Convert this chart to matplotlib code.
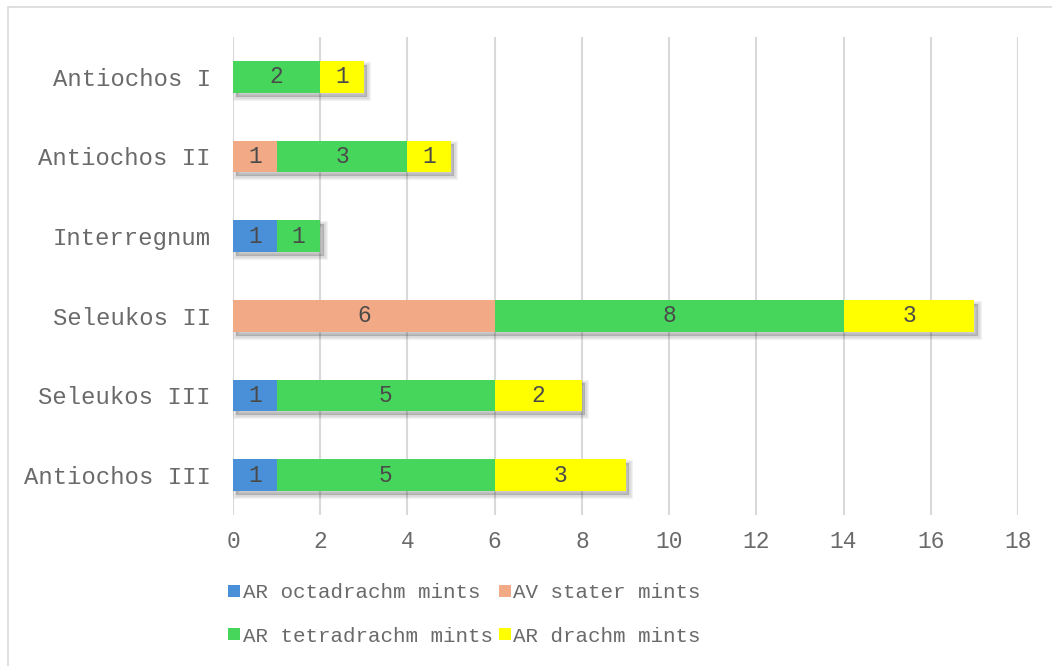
import matplotlib
matplotlib.use("Agg")
import matplotlib.pyplot as plt
import matplotlib.patheffects as pe
from matplotlib.patches import Rectangle
from matplotlib.lines import Line2D
import numpy as np

# Rulers, top to bottom
rulers = ["Antiochos I", "Antiochos II", "Interregnum",
          "Seleukos II", "Seleukos III", "Antiochos III"]

# Number of mints per coin type
octadrachm = [0, 0, 1, 0, 1, 1]
stater = [0, 1, 0, 6, 0, 0]
tetradrachm = [2, 3, 1, 8, 5, 5]
drachm = [1, 1, 0, 3, 2, 3]

series_names = ["AR octadrachm mints", "AV stater mints",
                "AR tetradrachm mints", "AR drachm mints"]
series_values = [octadrachm, stater, tetradrachm, drachm]
series_colors = ["#4A90D9", "#F2A985", "#47D65C", "#FFFF00"]

x_ticks = list(range(0, 19, 2))

plt.rcParams["font.family"] = ["Liberation Mono", "DejaVu Sans Mono"]

fig = plt.figure(figsize=(10.52, 6.66), dpi=100)
ax = fig.add_axes([233 / 1052, 1 - 515 / 666, 785 / 1052, 478 / 666])

n = len(rulers)
ypos = np.arange(n)[::-1]  # first ruler at the top
bar_h = 0.40

# soft drop shadow under each full bar
totals = np.sum(np.array(series_values), axis=0)
shadow = [pe.Stroke(offset=(2.4, -2.8), linewidth=w, foreground="k", alpha=0.05)
          for w in (5.0, 3.4, 1.8)]
shadow.append(pe.SimplePatchShadow(offset=(2.4, -2.8), shadow_rgbFace="k", alpha=0.2))
ax.barh(ypos, totals, height=bar_h, color="white", zorder=2, path_effects=shadow)

left = np.zeros(n)
for name, vals, col in zip(series_names, series_values, series_colors):
    vals = np.array(vals, dtype=float)
    ax.barh(ypos, vals, left=left, height=bar_h, color=col, zorder=3,
            label=name, linewidth=0)
    for yi, l, v in zip(ypos, left, vals):
        if v > 0:
            ax.text(l + v / 2, yi, f"{int(v)}", ha="center", va="center",
                    fontsize=16.5, color="#4a4a4a", zorder=4)
    left += vals

ax.set_xlim(0, 18)
ax.set_ylim(-0.5, n - 0.5)
ax.set_xticks(x_ticks)
ax.set_xticklabels([str(t) for t in x_ticks])
ax.set_yticks(ypos)
ax.set_yticklabels(rulers)
ax.tick_params(axis="x", length=0, pad=11, labelsize=16.5, labelcolor="#6a6a6a")
ax.tick_params(axis="y", length=0, pad=16, labelsize=17.2, labelcolor="#6a6a6a")
for s in ax.spines.values():
    s.set_visible(False)
ax.xaxis.grid(True, color="#D9D9D9", linewidth=1.5, zorder=0)
ax.set_axisbelow(True)

handles = [Line2D([], [], linestyle="none", marker="s", markersize=8,
                  markerfacecolor=c, markeredgewidth=0)
           for c in series_colors]
order = [0, 2, 1, 3]
leg = fig.legend([handles[i] for i in order], [series_names[i] for i in order],
                 ncol=2, loc="upper left", bbox_to_anchor=(228 / 1052, 1 - 583 / 666),
                 frameon=False, fontsize=15, labelcolor="#6a6a6a",
                 handlelength=0.55, handletextpad=0.15, columnspacing=0.3,
                 labelspacing=1.18, borderpad=0, borderaxespad=0)

# light outer frame of the chart area
fig.patches.append(Rectangle((7.5 / 1052, -0.05), 1.1, 1 - 7.5 / 666 + 0.05,
                             transform=fig.transFigure, fill=False,
                             edgecolor="#D9D9D9", linewidth=1.2))

fig.savefig("out.png", dpi=100)
